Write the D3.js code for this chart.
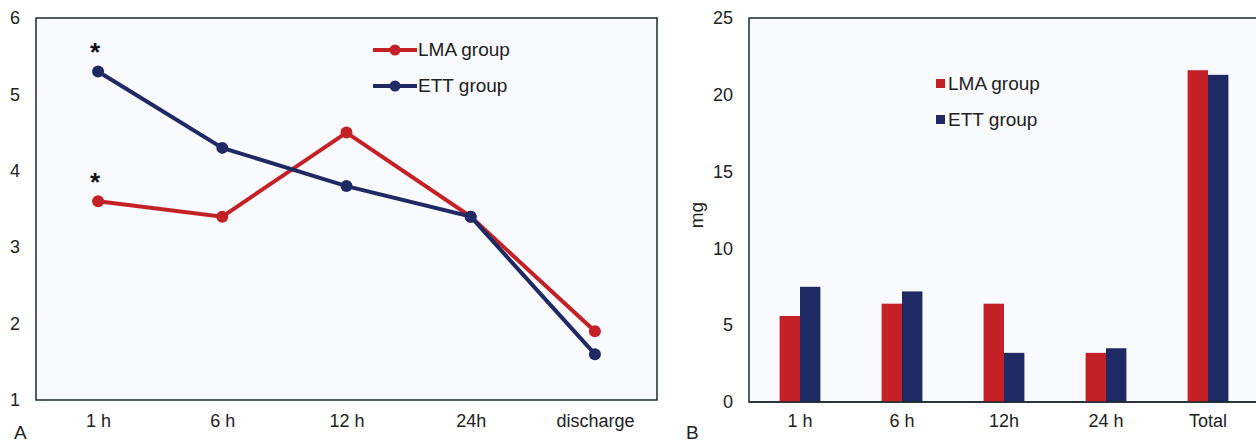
<!DOCTYPE html>
<html><head><meta charset="utf-8">
<script src="https://cdn.jsdelivr.net/npm/d3@7"></script>
<style>body{margin:0;background:#fff;}svg{display:block;font-family:"Liberation Sans",Arial,sans-serif;}</style>
</head><body><svg id="c" width="1256" height="444"></svg>
<script>
const lineCats = ["1 h","6 h","12 h","24h","discharge"];
const lineLMA = [3.6,3.4,4.5,3.4,1.9];
const lineETT = [5.3,4.3,3.8,3.4,1.6];
const lineYTicks = [1,2,3,4,5,6];
const barCats = ["1 h","6 h","12h","24 h","Total"];
const barLMA = [5.6,6.4,6.4,3.2,21.6];
const barETT = [7.5,7.2,3.2,3.5,21.3];
const barYTicks = [0,5,10,15,20,25];
const seriesNames = ["LMA group","ETT group"];
const RED = "#c42127", BLUE = "#1f2a64";
const FS = 18;

const svg = d3.select("#c");
function styleAxis(g){
  g.select(".domain").remove();
  g.attr("font-size",FS).attr("font-family","Liberation Sans, Arial, sans-serif");
  g.selectAll("text").attr("fill","#222");
}

// Panel A
const A = {l:36, r:657, t:18, b:400};
svg.append("rect").attr("x",A.l).attr("y",A.t).attr("width",A.r-A.l).attr("height",A.b-A.t)
  .attr("fill","#f9fafd").attr("stroke","#1c2a2e").attr("stroke-width",1.5);
const xA = d3.scalePoint().domain(lineCats).range([A.l,A.r]).padding(0.5);
const yA = d3.scaleLinear().domain([1,6]).range([A.b,A.t]);
svg.append("g").attr("transform",`translate(${A.l},0)`)
  .call(d3.axisLeft(yA).tickValues(lineYTicks).tickSize(0).tickPadding(16).tickFormat(d3.format("d")))
  .call(styleAxis);
svg.append("g").attr("transform",`translate(0,${A.b})`)
  .call(d3.axisBottom(xA).tickSize(0).tickPadding(14))
  .call(styleAxis);

const lineGen = d3.line().x((d,i)=>xA(lineCats[i])).y(d=>yA(d));
[[lineLMA,RED],[lineETT,BLUE]].forEach(([vals,col])=>{
  svg.append("path").attr("d",lineGen(vals)).attr("fill","none").attr("stroke",col).attr("stroke-width",4);
  svg.selectAll(null).data(vals).enter().append("circle")
    .attr("cx",(d,i)=>xA(lineCats[i])).attr("cy",d=>yA(d)).attr("r",6).attr("fill",col);
});
// asterisks
[lineETT[0], lineLMA[0]].forEach(v=>{
  svg.append("text").attr("x",xA(lineCats[0])-3).attr("y",yA(v)-10).attr("text-anchor","middle")
    .attr("font-size",26).attr("font-weight","bold").attr("fill","#111").text("*");
});
// legend A
[[RED,seriesNames[0]],[BLUE,seriesNames[1]]].forEach(([col,name],i)=>{
  const y = 50 + i*36;
  svg.append("line").attr("x1",373).attr("x2",417).attr("y1",y).attr("y2",y).attr("stroke",col).attr("stroke-width",4);
  svg.append("circle").attr("cx",395).attr("cy",y).attr("r",5.5).attr("fill",col);
  svg.append("text").attr("x",418).attr("y",y+6).attr("font-size",19).attr("fill","#222").text(name);
});
svg.append("text").attr("x",14).attr("y",439).attr("font-size",19).attr("fill","#222").text("A");

// Panel B
const B = {l:749, r:1259, t:18, b:402};
svg.append("rect").attr("x",B.l).attr("y",B.t).attr("width",B.r-B.l).attr("height",B.b-B.t)
  .attr("fill","#f9fafd").attr("stroke","#1c2a2e").attr("stroke-width",1.5);
const xB = d3.scaleBand().domain(barCats).range([B.l,B.r]).paddingInner(0.6).paddingOuter(0.3);
const yB = d3.scaleLinear().domain([0,25]).range([B.b,B.t]);
svg.append("g").attr("transform",`translate(${B.l},0)`)
  .call(d3.axisLeft(yB).tickValues(barYTicks).tickSize(0).tickPadding(16).tickFormat(d3.format("d")))
  .call(styleAxis);
svg.append("g").attr("transform",`translate(0,${B.b})`)
  .call(d3.axisBottom(xB).tickSize(0).tickPadding(12))
  .call(styleAxis);
const xSub = d3.scaleBand().domain([0,1]).range([0,xB.bandwidth()]);
[[barLMA,RED],[barETT,BLUE]].forEach(([vals,col],s)=>{
  svg.selectAll(null).data(vals).enter().append("rect")
    .attr("x",(d,i)=>xB(barCats[i])+xSub(s)).attr("width",xSub.bandwidth())
    .attr("y",d=>yB(d)).attr("height",d=>B.b-yB(d)).attr("fill",col);
});
svg.append("line").attr("x1",B.l).attr("x2",B.r).attr("y1",B.b).attr("y2",B.b).attr("stroke","#1c2a2e").attr("stroke-width",1.5);
svg.append("text").attr("transform","translate(703,215) rotate(-90)").attr("text-anchor","middle")
  .attr("font-size",19).attr("fill","#222").text("mg");
[[RED,seriesNames[0]],[BLUE,seriesNames[1]]].forEach(([col,name],i)=>{
  const y = 84 + i*36;
  svg.append("rect").attr("x",936).attr("y",y-5).attr("width",9).attr("height",9).attr("fill",col);
  svg.append("text").attr("x",948).attr("y",y+6).attr("font-size",19).attr("fill","#222").text(name);
});
svg.append("text").attr("x",686).attr("y",439).attr("font-size",19).attr("fill","#222").text("B");
</script></body></html>
